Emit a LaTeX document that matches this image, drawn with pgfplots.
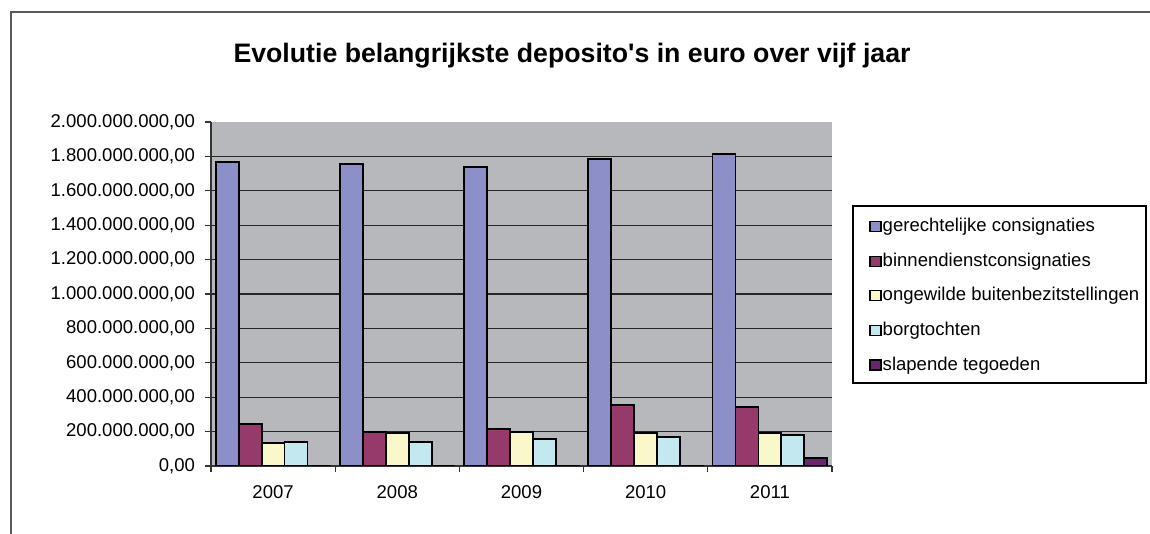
\documentclass[border=0pt]{standalone}
\usepackage{fontspec}
\setmainfont{Liberation Sans}
\usepackage{pgfplots}
\pgfplotsset{compat=1.18}

\definecolor{cgerecht}{HTML}{8D8FC8}
\definecolor{cbinnen}{HTML}{953A6B}
\definecolor{congew}{HTML}{FAF8CB}
\definecolor{cborg}{HTML}{C3E8EF}
\definecolor{cslap}{HTML}{6B2570}
\definecolor{bggray}{HTML}{B7B8BC}
\newcommand\chartfont{\fontsize{9.3}{11}\selectfont}
\newcommand\toplab{2.000.000.000,00}

\begin{document}
\begin{tikzpicture}
\useasboundingbox (0,0) rectangle (575bp,267bp);
% outer chart frame (left and top edge visible)
\draw[black!65, line width=0.6bp] (5.5bp,0) -- (5.5bp,261bp) -- (575bp,261bp);
\node[font=\fontsize{13.4}{16}\selectfont\bfseries] at (286bp,239bp)
  {Evolutie belangrijkste deposito\textquotesingle s in euro over vijf jaar};
% legend frame
\draw[black, line width=0.6bp] (426.5bp,75.5bp) rectangle (573bp,164bp);

\begin{axis}[
  at={(105.5bp,34bp)}, anchor=south west,
  scale only axis, width=310.5bp, height=172bp,
  ybar=0pt, bar width=0.185,
  xmin=-0.5, xmax=4.5, ymin=0, ymax=2000000000,
  axis x line*=bottom, axis y line*=left,
  axis line style={black!80, line width=0.6bp},
  axis background/.style={fill=bggray},
  xtick={0,1,2,3,4},
  xticklabels={2007,2008,2009,2010,2011},
  major x tick style={draw=none},
  minor xtick={-0.5,0.5,1.5,2.5,3.5,4.5},
  minor x tick style={black!80, line width=0.6bp},
  minor tick length=3bp,
  ytick={0,200000000,400000000,600000000,800000000,1000000000,1200000000,1400000000,1600000000,1800000000},
  yticklabels={{0,00},{200.000.000,00},{400.000.000,00},{600.000.000,00},{800.000.000,00},{1.000.000.000,00},{1.200.000.000,00},{1.400.000.000,00},{1.600.000.000,00},{1.800.000.000,00}},
  extra y ticks={2000000000},
  extra y tick labels={\toplab},
  extra y tick style={grid=none},
  ymajorgrids, grid style={black!85, line width=0.6bp},
  major y tick style={black!80, line width=0.6bp},
  major tick length=3bp, tick align=outside,
  ticklabel style={font=\chartfont},
  xticklabel style={yshift=-3.5bp},
  yticklabel style={xshift=-1.5bp},
  scaled y ticks=false,
  every axis plot/.append style={draw=black, line width=0.9bp},
  legend style={draw=none, fill=none, inner sep=0pt,
    at={(axis description cs:1.0595,0.7267)}, anchor=north west,
    font=\chartfont, row sep=7.1bp,
    nodes={inner sep=0.6bp, text height=7bp, text depth=2bp},
    /tikz/every odd column/.append style={column sep=0bp}},
  legend cell align=left,
  legend image code/.code={\draw[#1, draw=black, line width=0.6bp] (0bp,-2.5bp) rectangle (5.5bp,2.5bp);},
]
\addplot[fill=cgerecht] coordinates {(0,1769000000) (1,1758000000) (2,1740000000) (3,1787000000) (4,1814000000)};
\addplot[fill=cbinnen] coordinates {(0,244000000) (1,199000000) (2,213000000) (3,355000000) (4,343000000)};
\addplot[fill=congew] coordinates {(0,135000000) (1,192000000) (2,196000000) (3,190000000) (4,190000000)};
\addplot[fill=cborg] coordinates {(0,141000000) (1,141000000) (2,159000000) (3,170000000) (4,180000000)};
\addplot[fill=cslap] coordinates {(0,0) (1,0) (2,3000000) (3,3000000) (4,46000000)};
\legend{gerechtelijke consignaties,binnendienstconsignaties,ongewilde buitenbezitstellingen,borgtochten,slapende tegoeden}
\end{axis}
\end{tikzpicture}
\end{document}
